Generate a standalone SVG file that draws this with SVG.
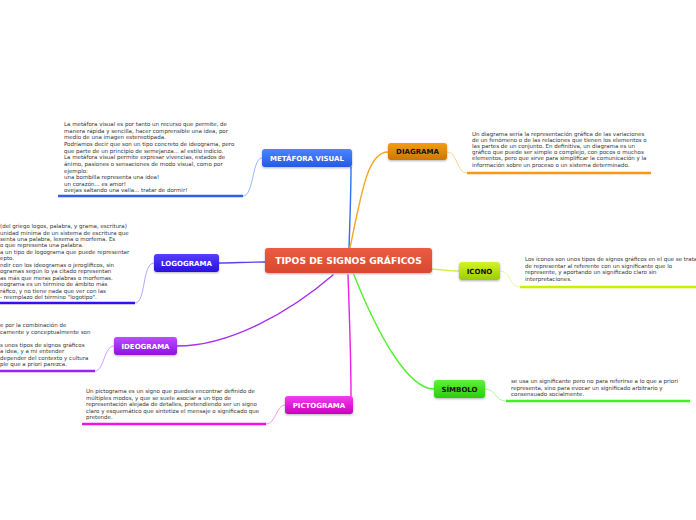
<svg xmlns="http://www.w3.org/2000/svg" width="696" height="520" viewBox="0 0 696 520">
<defs>
<linearGradient id="gC" x1="0" y1="0" x2="0" y2="1"><stop offset="0" stop-color="#ec5c43"/><stop offset="1" stop-color="#d9472f"/></linearGradient>
<linearGradient id="gM" x1="0" y1="0" x2="0" y2="1"><stop offset="0" stop-color="#4a86ff"/><stop offset="1" stop-color="#2559e6"/></linearGradient>
<linearGradient id="gD" x1="0" y1="0" x2="0" y2="1"><stop offset="0" stop-color="#f49c14"/><stop offset="1" stop-color="#cf7600"/></linearGradient>
<linearGradient id="gL" x1="0" y1="0" x2="0" y2="1"><stop offset="0" stop-color="#5540ff"/><stop offset="1" stop-color="#2a0fe0"/></linearGradient>
<linearGradient id="gI" x1="0" y1="0" x2="0" y2="1"><stop offset="0" stop-color="#d4f22a"/><stop offset="1" stop-color="#9ccc00"/></linearGradient>
<linearGradient id="gE" x1="0" y1="0" x2="0" y2="1"><stop offset="0" stop-color="#bb4dff"/><stop offset="1" stop-color="#8f12e4"/></linearGradient>
<linearGradient id="gS" x1="0" y1="0" x2="0" y2="1"><stop offset="0" stop-color="#5ef23a"/><stop offset="1" stop-color="#2ccc0c"/></linearGradient>
<linearGradient id="gP" x1="0" y1="0" x2="0" y2="1"><stop offset="0" stop-color="#f43cec"/><stop offset="1" stop-color="#cc00c4"/></linearGradient>
<filter id="sh" x="-10%" y="-20%" width="120%" height="150%"><feDropShadow dx="0" dy="1" stdDeviation="0.8" flood-color="#000" flood-opacity="0.3"/></filter>
</defs>
<style>
.nl{font-family:"DejaVu Sans",Verdana,sans-serif;font-weight:bold;font-size:7px;text-anchor:middle}
.w{fill:#ffffff}
.k{fill:#111111}
.tx{font-family:"DejaVu Sans",Verdana,sans-serif;font-size:5.5px;fill:#333333}
.c{fill:none;stroke-width:1.4;stroke-linecap:round}
.lc{fill:none;stroke-width:0.7}
.ul{fill:none;stroke-width:2.6}
</style>
<rect width="696" height="520" fill="#ffffff"/>
<g id="connectors">
<path class="c" stroke="#2f6ef7" d="M349,248 C350,220 351,190 351,167"/>
<path class="c" stroke="#f5a623" d="M350,248 C362,190 368,152 388,152"/>
<path class="c" stroke="#5a44f0" d="M265,262 C245,262 235,263 219,263"/>
<path class="c" stroke="#d4f050" d="M432,269 C445,270 450,271 459,271"/>
<path class="c" stroke="#a530f0" d="M333,275 C290,312 230,346 177,346"/>
<path class="c" stroke="#55ef30" d="M354,275 C378,335 408,389 434,389"/>
<path class="c" stroke="#ec20e4" d="M348,275 C350,330 351,370 351,396"/>
<path class="lc" stroke="#6f99ff" d="M262,158 C252,158 254,196 243,196"/>
<path class="lc" stroke="#9080ff" d="M154,263 C142,263 146,303 135,303"/>
<path class="lc" stroke="#c070ff" d="M114,346 C104,346 104,371 95,371"/>
<path class="lc" stroke="#f070ec" d="M285,405 C276,405 276,424 266,424"/>
<path class="lc" stroke="#f8c060" d="M447,152 C458,152 456,173 467,173"/>
<path class="lc" stroke="#e0f080" d="M500,271 C511,271 509,287 520,287"/>
<path class="lc" stroke="#90f070" d="M485,389 C496,389 495,401 506,401"/>
<path class="ul" stroke="#2f5ef0" d="M58,196 H243"/>
<path class="ul" stroke="#3410f0" d="M0,303 H135"/>
<path class="ul" stroke="#a020f0" d="M0,371 H95"/>
<path class="ul" stroke="#f010e8" d="M82,424 H266"/>
<path class="ul" stroke="#f59a10" d="M467,173 H651"/>
<path class="ul" stroke="#c8f000" d="M520,287 H696"/>
<path class="ul" stroke="#40f020" d="M506,401 H690"/>
</g>
<g id="central">
<rect x="265" y="248" width="167" height="25" rx="3" fill="url(#gC)" filter="url(#sh)"/>
<text class="nl w" x="348.5" y="264.2" style="font-size:9.2px">TIPOS DE SIGNOS GRÁFICOS</text>
</g>
<g id="metafora">
<rect x="262" y="149" width="90" height="18" rx="3" fill="url(#gM)" filter="url(#sh)"/>
<text class="nl w" x="307" y="160.5">METÁFORA VISUAL</text>
</g>
<g id="diagrama">
<rect x="388" y="143" width="59" height="17" rx="3" fill="url(#gD)" filter="url(#sh)"/>
<text class="nl k" x="417.5" y="154">DIAGRAMA</text>
</g>
<g id="logograma">
<rect x="154" y="254" width="65" height="18" rx="3" fill="url(#gL)" filter="url(#sh)"/>
<text class="nl w" x="186.5" y="265.5">LOGOGRAMA</text>
</g>
<g id="icono">
<rect x="459" y="262" width="41" height="18" rx="3" fill="url(#gI)" filter="url(#sh)"/>
<text class="nl k" x="479.5" y="273.5">ICONO</text>
</g>
<g id="ideograma">
<rect x="114" y="337" width="63" height="18" rx="3" fill="url(#gE)" filter="url(#sh)"/>
<text class="nl w" x="145.5" y="348.5">IDEOGRAMA</text>
</g>
<g id="simbolo">
<rect x="434" y="380" width="51" height="18" rx="3" fill="url(#gS)" filter="url(#sh)"/>
<text class="nl k" x="459.5" y="391.5">SÍMBOLO</text>
</g>
<g id="pictograma">
<rect x="285" y="396" width="68" height="18" rx="3" fill="url(#gP)" filter="url(#sh)"/>
<text class="nl w" x="319" y="407.5">PICTOGRAMA</text>
</g>
<g id="metafora-text" class="tx">
<text x="64" y="126">La metáfora visual es por tanto un recurso que permite, de</text>
<text x="64" y="132.6">manera rápida y sencilla, hacer comprensible una idea, por</text>
<text x="64" y="139.2">medio de una imagen estereotipada.</text>
<text x="64" y="146">Podríamos decir que son un tipo concreto de ideograma, pero</text>
<text x="64" y="152.6">que parte de un principio de semejanza... al estilo indicio.</text>
<text x="64" y="159.4">La metáfora visual permite expresar vivencias, estados de</text>
<text x="64" y="166">ánimo, pasiones o sensaciones de modo visual, como por</text>
<text x="64" y="172.6">ejemplo:</text>
<text x="64" y="179.2">una bombilla representa una idea!</text>
<text x="64" y="185.8">un corazón... es amor!</text>
<text x="64" y="192.2">ovejas saltando una valla... tratar de dormir!</text>
</g>
<g id="logograma-text" class="tx">
<text x="0" y="228">(del griego logos, palabra, y grama, escritura)</text>
<text x="0" y="234.5">unidad mínima de un sistema de escritura que</text>
<text x="0" y="241">senta una palabra, lexema o morfema. Es</text>
<text x="0" y="247.3">o que representa una palabra.</text>
<text x="0" y="253.8">a un tipo de logograma que puede representar</text>
<text x="0" y="260">epto.</text>
<text x="0" y="267">ndir con los ideogramas o jeroglíficos, sin</text>
<text x="0" y="273.4">ogramas según lo ya citado representan</text>
<text x="0" y="279.8">as más que meras palabras o morfemas.</text>
<text x="0" y="286.2">eograma es un término de ámbito más</text>
<text x="0" y="292.6">ráfico, y no tiene nada que ver con las</text>
<text x="0" y="299">- reemplazo del término "logotipo".</text>
</g>
<g id="ideograma-text" class="tx">
<text x="0" y="327">e por la combinación de</text>
<text x="0" y="333.5">camente y conceptualmente son</text>
<text x="0" y="346.5">s unos tipos de signos gráficos</text>
<text x="0" y="353">a idea, y a mi entender</text>
<text x="0" y="359.5">depender del contexto y cultura</text>
<text x="0" y="366">ple que a priori parezca.</text>
</g>
<g id="pictograma-text" class="tx">
<text x="86" y="393">Un pictograma es un signo que puedes encontrar definido de</text>
<text x="86" y="399.5">múltiples modos, y que se suele asociar a un tipo de</text>
<text x="86" y="406">representación alejada de detalles, pretendiendo ser un signo</text>
<text x="86" y="412.5">claro y esquemático que sintetiza el mensaje o significado que</text>
<text x="86" y="419">pretende.</text>
</g>
<g id="diagrama-text" class="tx">
<text x="472" y="135.5">Un diagrama sería la representación gráfica de las variaciones</text>
<text x="472" y="141.7">de un fenómeno o de las relaciones que tienen los elementos o</text>
<text x="472" y="147.9">las partes de un conjunto. En definitiva, un diagrama es un</text>
<text x="472" y="154.1">gráfico que puede ser simple o complejo, con pocos o muchos</text>
<text x="472" y="160.3">elementos, pero que sirve para simplificar la comunicación y la</text>
<text x="472" y="166.5">información sobre un proceso o un sistema determinado.</text>
</g>
<g id="icono-text" class="tx">
<text x="525" y="261">Los íconos son unos tipos de signos gráficos en el que se trata</text>
<text x="525" y="267.5">de representar al referente con un significante que lo</text>
<text x="525" y="274">represente, y aportando un significado claro sin</text>
<text x="525" y="280.5">interpretaciones.</text>
</g>
<g id="simbolo-text" class="tx">
<text x="511" y="383">se usa un significante pero no para referirse a lo que a priori</text>
<text x="511" y="389.5">representa, sino para evocar un significado arbitrario y</text>
<text x="511" y="396">consensuado socialmente.</text>
</g>
</svg>
